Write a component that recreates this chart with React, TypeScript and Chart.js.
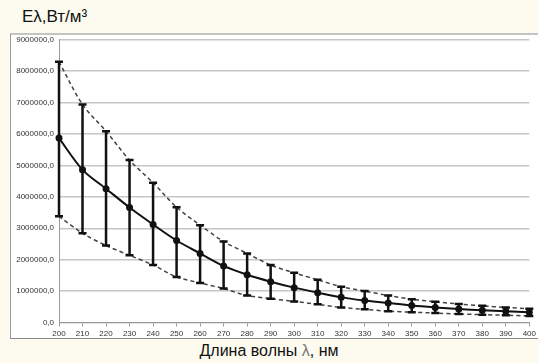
import React, { useEffect, useRef } from "react";
import { Chart, registerables } from "chart.js";

Chart.register(...registerables);

const wavelengths = ["200","210","220","230","240","250","260","270","280","290","300","310","320","330","340","350","360","370","380","390","400"];
const meanValues = [5870000,4860000,4260000,3660000,3120000,2610000,2200000,1800000,1520000,1300000,1110000,950000,800000,700000,620000,540000,480000,430000,390000,360000,330000];
const upperValues = [8300000,6940000,6090000,5170000,4450000,3670000,3100000,2580000,2200000,1830000,1580000,1360000,1140000,1000000,860000,740000,660000,590000,530000,480000,440000];
const lowerValues = [3380000,2840000,2450000,2140000,1830000,1450000,1260000,1080000,860000,760000,670000,580000,480000,420000,360000,330000,300000,270000,250000,230000,210000];
const yMax = 9000000;
const yStep = 1000000;

const errorBarPlugin = {
  id: "errorBars",
  afterDatasetsDraw(chart: any) {
    const { ctx, scales } = chart;
    const xs = scales.x;
    const ys = scales.y;
    ctx.save();
    ctx.strokeStyle = "#111";
    ctx.lineWidth = 2.5;
    for (let i = 0; i < wavelengths.length; i++) {
      const x = xs.getPixelForValue(i);
      const yTop = ys.getPixelForValue(upperValues[i]);
      const yBot = ys.getPixelForValue(lowerValues[i]);
      ctx.beginPath();
      ctx.moveTo(x, yTop);
      ctx.lineTo(x, yBot);
      ctx.moveTo(x - 4, yTop);
      ctx.lineTo(x + 4, yTop);
      ctx.moveTo(x - 4, yBot);
      ctx.lineTo(x + 4, yBot);
      ctx.stroke();
    }
    ctx.restore();
  },
};

export default function App() {
  const ref = useRef<HTMLCanvasElement>(null);
  useEffect(() => {
    document.body.style.margin = "0";
    const chart = new Chart(ref.current!, {
      type: "line",
      data: {
        labels: wavelengths,
        datasets: [
          {
            data: upperValues,
            borderColor: "#444",
            borderWidth: 1.5,
            borderDash: [4, 3],
            pointRadius: 0,
            tension: 0.3,
            fill: false,
          },
          {
            data: lowerValues,
            borderColor: "#444",
            borderWidth: 1.5,
            borderDash: [4, 3],
            pointRadius: 0,
            tension: 0.3,
            fill: false,
          },
          {
            data: meanValues,
            borderColor: "#111",
            borderWidth: 2,
            pointRadius: 2.5,
            pointBackgroundColor: "#111",
            pointBorderColor: "#111",
            tension: 0.3,
            fill: false,
          },
        ],
      },
      options: {
        animation: false,
        responsive: false,
        maintainAspectRatio: false,
        layout: { padding: { top: 0, right: 4, left: 0, bottom: 0 } },
        plugins: { legend: { display: false }, tooltip: { enabled: false } },
        scales: {
          x: {
            offset: false,
            grid: { display: true, drawOnChartArea: false, drawTicks: true, tickLength: 4, color: "#999" },
            border: { display: true, color: "#999", width: 1 },
            ticks: {
              autoSkip: false,
              maxRotation: 0,
              padding: 2,
              color: "#333",
              font: { family: "Liberation Sans", size: 8 },
            },
            afterFit(scale: any) {
              scale.height = 15.5;
            },
          },
          y: {
            min: 0,
            max: yMax,
            grid: { color: "#c6c6c6", lineWidth: 1.5, drawTicks: false },
            border: { display: true, color: "#999", width: 1 },
            ticks: {
              stepSize: yStep,
              padding: 5,
              color: "#333",
              font: { family: "Liberation Sans", size: 8 },
              callback: (v: any) => Number(v).toFixed(1).replace(".", ","),
            },
            afterFit(scale: any) {
              scale.width = 48;
            },
          },
        },
      },
      plugins: [errorBarPlugin],
    });
    return () => chart.destroy();
  }, []);

  return (
    <div style={{ position: "relative", width: 538, height: 363, background: "#fdfbef", overflow: "hidden", fontFamily: "Liberation Sans, Arial, sans-serif" }}>
      <div style={{ position: "absolute", left: 22, top: 7, fontSize: 17, color: "#111" }}>
        Eλ,Вт/м³
      </div>
      <div style={{ position: "absolute", left: 10, top: 33, width: 528, height: 306, background: "#fff", borderTop: "2px solid #c4c4c4", borderLeft: "1px solid #999", borderBottom: "1px solid #888", boxSizing: "border-box" }}>
        <canvas ref={ref} width={527} height={308} style={{ display: "block", marginTop: -5 }} />
      </div>
      <div style={{ position: "absolute", left: 0, width: 538, top: 342, textAlign: "center", fontSize: 16, color: "#111" }}>
        Длина волны <span style={{ color: "#777" }}>λ</span>, нм
      </div>
    </div>
  );
}
